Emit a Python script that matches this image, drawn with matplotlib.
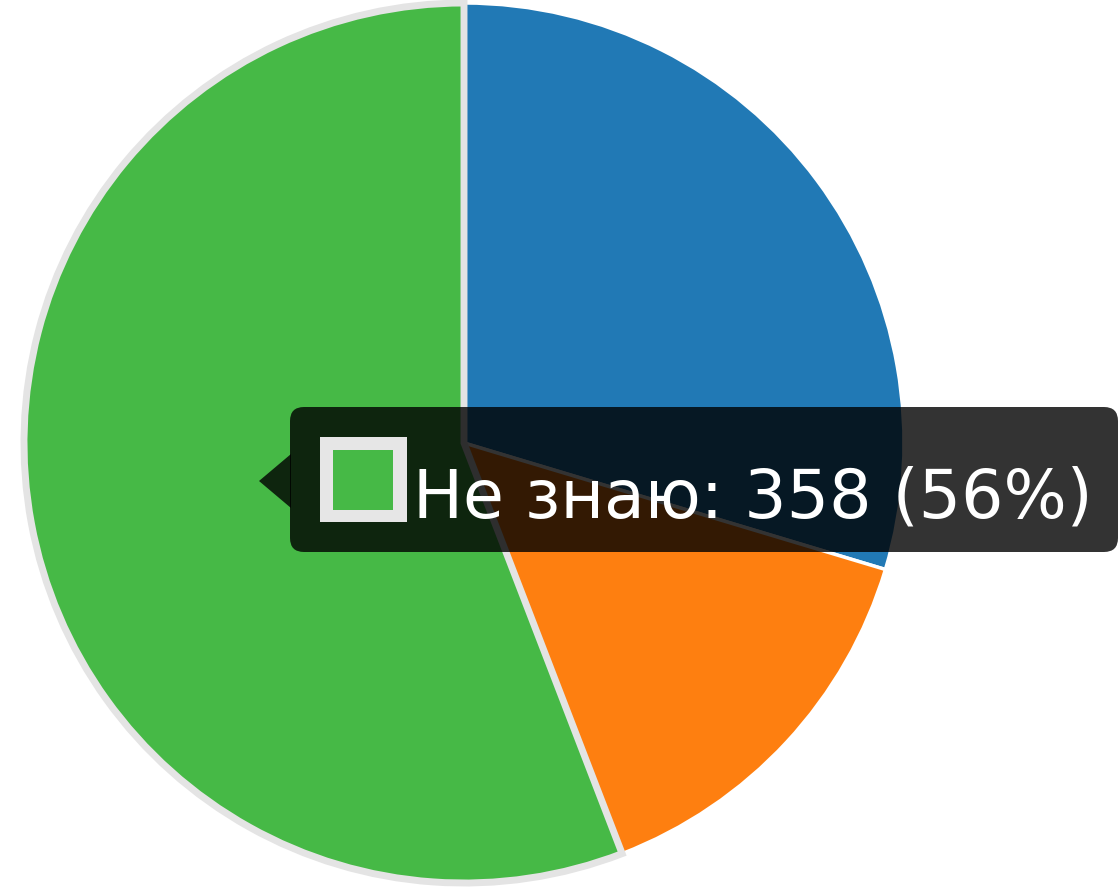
import matplotlib
matplotlib.use("Agg")
import matplotlib.pyplot as plt
from matplotlib.patches import FancyBboxPatch, Polygon, Rectangle

# data
labels = ["Да", "Нет", "Не знаю"]
values = [190, 93, 358]
colors = ["#2179b5", "#fe7f10", "#46b946"]
hovered = 2

W, H = 1120, 891

fig = plt.figure(figsize=(W / 100, H / 100), dpi=100)
ax = fig.add_axes([0, 0, 1, 1])
ax.set_xlim(0, W)
ax.set_ylim(0, H)
ax.set_aspect("equal")
ax.axis("off")

wedges, _ = ax.pie(values, colors=colors, startangle=90, counterclock=False,
                   center=(464, H - 443), radius=440,
                   wedgeprops=dict(edgecolor="white", linewidth=2.5))
ax.set_xlim(0, W)
ax.set_ylim(0, H)

# hovered slice gets a thick grey border
wedges[hovered].set_edgecolor("#e4e4e4")
wedges[hovered].set_linewidth(5)
wedges[hovered].set_zorder(3)

# tooltip
tip_y = H - 481
box = FancyBboxPatch((290, H - 552), 1118 - 290, 145,
                     boxstyle="round,pad=0,rounding_size=14",
                     facecolor="black", alpha=0.8, edgecolor="none", zorder=5)
ax.add_patch(box)
caret = Polygon([(291, tip_y + 27), (259, tip_y), (291, tip_y - 27)],
                closed=True, facecolor="black", alpha=0.8, edgecolor="none", zorder=5)
ax.add_patch(caret)

ax.add_patch(Rectangle((320, H - 522), 87, 85, facecolor="#e6e6e6",
                       edgecolor="none", zorder=6))
ax.add_patch(Rectangle((333, H - 510), 60, 60, facecolor=colors[hovered],
                       edgecolor="none", zorder=7))

total = sum(values)
pct = round(values[hovered] / total * 100)
ax.text(413, H - 517, f"{labels[hovered]}: {values[hovered]} ({pct}%)",
        color="white", fontsize=48, va="baseline", ha="left",
        family=["DejaVu Sans"], zorder=8)

fig.savefig("out.png", dpi=100)
